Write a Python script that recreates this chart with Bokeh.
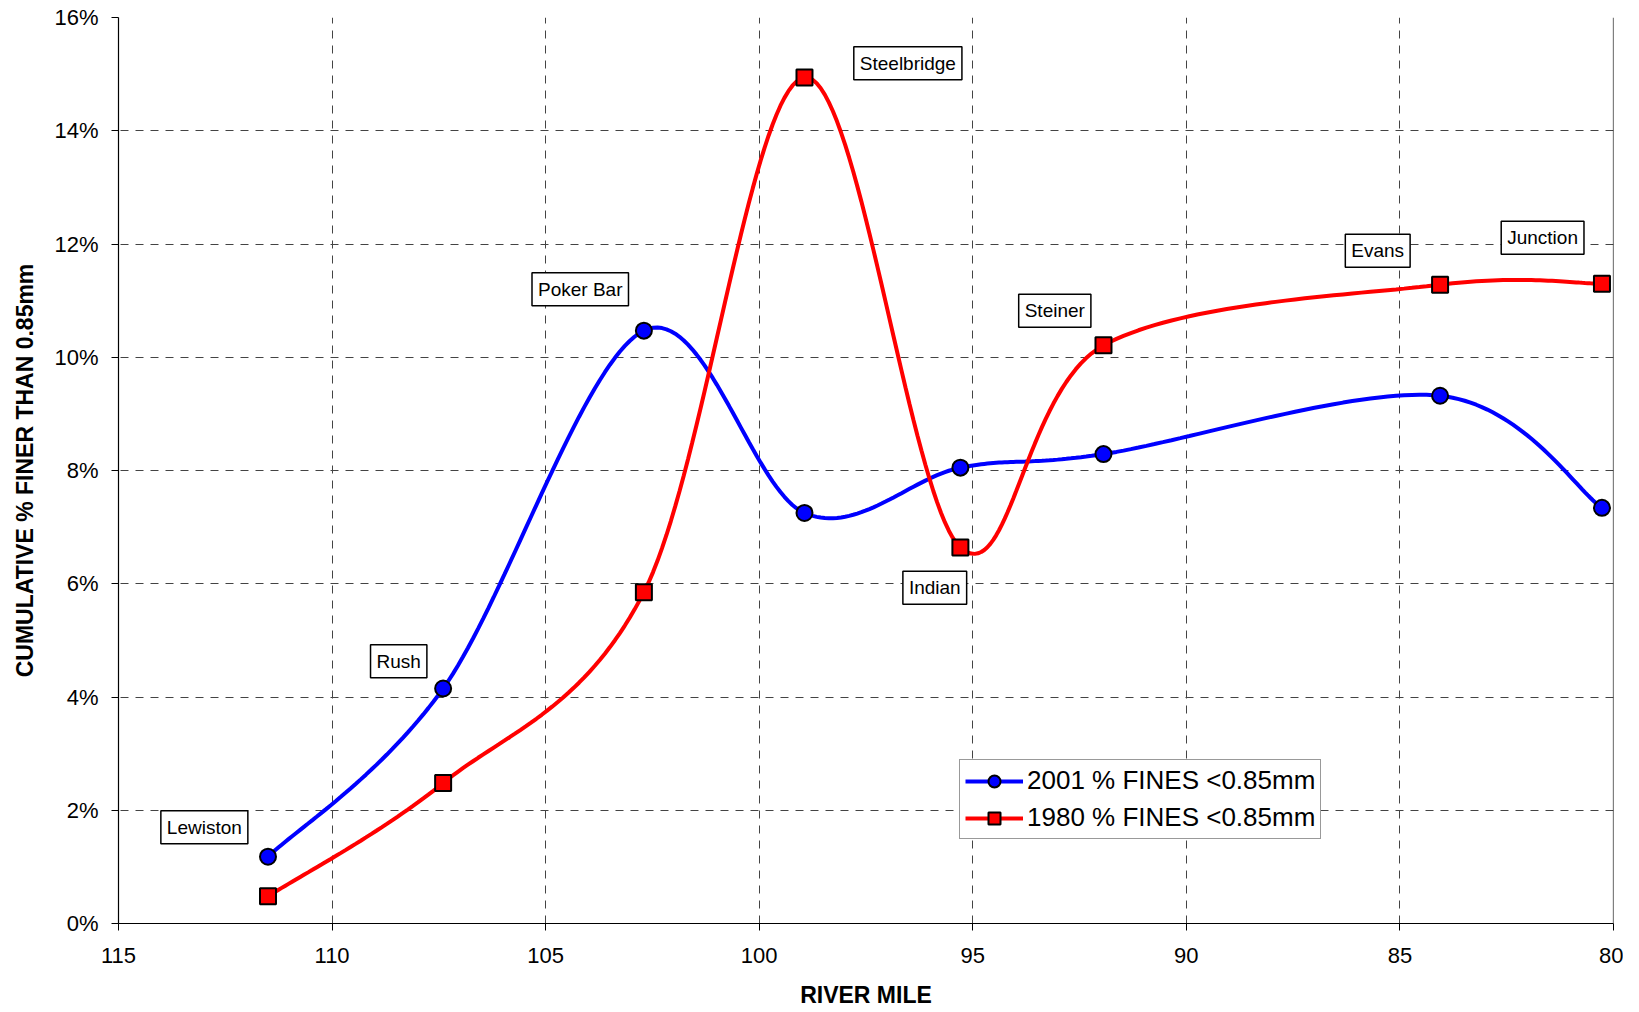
import numpy as np
from bokeh.plotting import figure
from bokeh.models import (Range1d, NumeralTickFormatter, FixedTicker, Legend, LegendItem,
                          ColumnDataSource, Span)
from bokeh.core.properties import value
from bokeh.embed import file_html
from bokeh.resources import INLINE

# ---------------- data ----------------
sites = ["Lewiston", "Rush", "Poker Bar", "Steelbridge", "Indian", "Steiner", "Evans", "Junction"]
river_mile = [111.5, 107.4, 102.7, 98.94, 95.29, 91.94, 84.06, 80.27]
fines_2001 = [1.18, 4.15, 10.47, 7.25, 8.05, 8.29, 9.32, 7.34]
fines_1980 = [0.48, 2.48, 5.85, 14.94, 6.64, 10.21, 11.28, 11.30]
# label box anchor positions (river mile, percent)
label_x = [112.99, 108.44, 104.19, 96.52, 95.89, 93.08, 85.52, 81.66]
label_y = [1.70, 4.63, 11.20, 15.19, 5.93, 10.82, 11.88, 12.11]
x_ticks = [115, 110, 105, 100, 95, 90, 85, 80]
y_ticks = [0, 2, 4, 6, 8, 10, 12, 14, 16]

FONT = "Liberation Sans"


def smooth(xs, ys, n=40):
    """Excel-style smoothed line (Catmull-Rom Bezier segments)."""
    P = np.column_stack([xs, ys]).astype(float)
    P = np.vstack([P[0], P, P[-1]])
    out = []
    t = np.linspace(0, 1, n)
    for i in range(1, len(P) - 2):
        p0, p1, p2, p3 = P[i - 1], P[i], P[i + 1], P[i + 2]
        c1 = p1 + (p2 - p0) / 6.0
        c2 = p2 - (p3 - p1) / 6.0
        seg = ((1 - t) ** 3)[:, None] * p1 + (3 * (1 - t) ** 2 * t)[:, None] * c1 \
            + (3 * (1 - t) * t ** 2)[:, None] * c2 + (t ** 3)[:, None] * p2
        out.append(seg if i == 1 else seg[1:])
    S = np.vstack(out)
    return S[:, 0], S[:, 1] / 100.0


p = figure(width=1623, height=1010, output_backend="svg", toolbar_location=None,
           x_range=Range1d(115, 80), y_range=Range1d(0, 0.16),
           min_border_left=118, min_border_right=10, min_border_top=17, min_border_bottom=80)
p.outline_line_color = None
p.background_fill_color = "white"

# axes
for ax in (p.xaxis, p.yaxis):
    ax.axis_line_color = "black"
    ax.axis_line_width = 1.2
    ax.major_tick_line_color = "black"
    ax.major_tick_out = 7
    ax.major_tick_in = 0
    ax.minor_tick_line_color = None
    ax.major_label_text_font = FONT
    ax.major_label_text_font_size = "22px"
    ax.major_label_text_color = "black"
    ax.axis_label_text_font = FONT
    ax.axis_label_text_font_style = "bold"
    ax.axis_label_text_font_size = "23px"
    ax.axis_label_text_color = "black"

p.xaxis.ticker = FixedTicker(ticks=x_ticks)
p.yaxis.ticker = FixedTicker(ticks=[v / 100 for v in y_ticks])
p.yaxis.formatter = NumeralTickFormatter(format="0%")
p.xaxis.axis_label = "RIVER MILE"
p.yaxis.axis_label = "CUMULATIVE % FINER THAN 0.85mm"
p.xaxis.major_label_standoff = 17
p.yaxis.major_label_standoff = 13
p.xaxis.axis_label_standoff = 16
p.yaxis.axis_label_standoff = 13

# grid
for g in (p.xgrid, p.ygrid):
    g.grid_line_color = "#444444"
    g.grid_line_dash = "8 7"
    g.grid_line_width = 1
p.xgrid.ticker = FixedTicker(ticks=x_ticks)
p.ygrid.ticker = FixedTicker(ticks=[v / 100 for v in y_ticks])

p.add_layout(Span(location=80, dimension="height", line_color="black", line_width=1.2))

# series
bx, by = smooth(river_mile, fines_2001)
rx, ry = smooth(river_mile, fines_1980)
src = ColumnDataSource(dict(x=river_mile,
                            y01=[v / 100 for v in fines_2001],
                            y80=[v / 100 for v in fines_1980]))

l_blue = p.line(bx, by, line_color="#0000FF", line_width=4)
m_blue = p.scatter("x", "y01", source=src, marker="circle", size=16,
                   fill_color="#0000FF", line_color="black", line_width=2)
l_red = p.line(rx, ry, line_color="#FF0000", line_width=4)
m_red = p.scatter("x", "y80", source=src, marker="square", size=16,
                  fill_color="#FF0000", line_color="black", line_width=2)

# site labels
lsrc = ColumnDataSource(dict(x=label_x, y=[v / 100 for v in label_y], t=sites))
p.text("x", "y", text="t", source=lsrc, text_align="center", text_baseline="middle",
       text_font=value(FONT), text_font_size="19px", text_color="black",
       background_fill_color="white", border_line_color="black", border_line_width=1.5,
       padding=6)

legend = Legend(items=[LegendItem(label="2001 % FINES <0.85mm", renderers=[l_blue, m_blue]),
                       LegendItem(label="1980 % FINES <0.85mm", renderers=[l_red, m_red])],
                location=(841, 84), orientation="vertical")
legend.label_text_font = FONT
legend.label_text_font_size = "26px"
legend.label_text_color = "black"
legend.glyph_width = 58
legend.glyph_height = 30
legend.label_height = 30
legend.label_standoff = 4
legend.spacing = 6
legend.padding = 5
legend.margin = 0
legend.border_line_color = "#333333"
legend.border_line_width = 1.2
legend.background_fill_color = "white"
legend.background_fill_alpha = 1
p.add_layout(legend, "center")

open("out.html", "w").write(file_html(p, INLINE))
